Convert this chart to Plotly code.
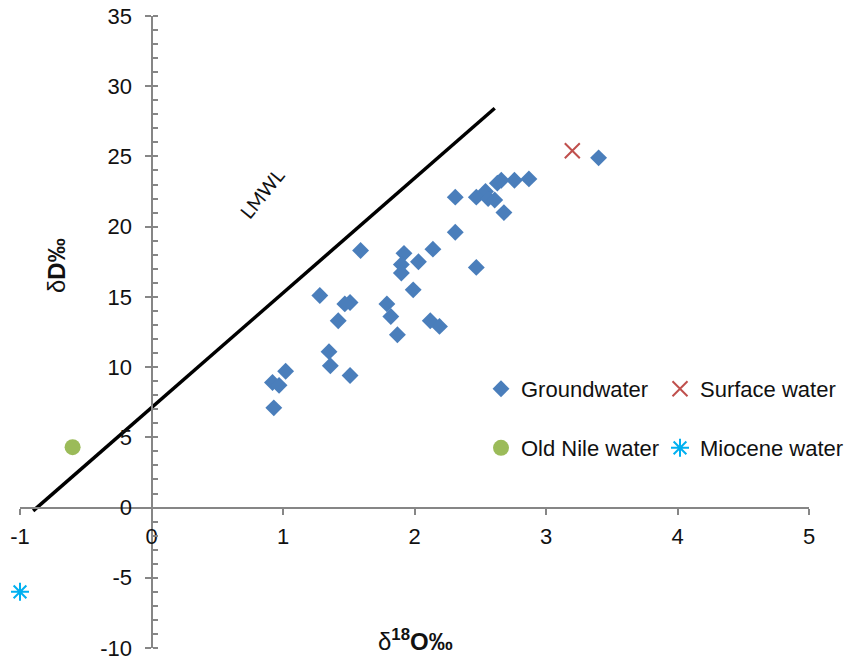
import plotly.graph_objects as go

# Groundwater samples (δ18O ‰, δD ‰)
gw_o18 = [3.40, 2.87, 2.76, 2.66, 2.63, 2.54, 2.47, 2.56, 2.61, 2.31, 2.68, 2.31,
          1.59, 2.14, 1.92, 2.03, 1.90, 2.47, 1.90, 1.99, 1.28, 1.51, 1.47, 1.79,
          1.42, 1.82, 2.12, 2.19, 1.87, 1.35, 1.36, 1.02, 1.51, 0.92, 0.97, 0.93]
gw_dD = [24.9, 23.4, 23.3, 23.3, 23.1, 22.5, 22.1, 22.0, 21.9, 22.1, 21.0, 19.6,
         18.3, 18.4, 18.1, 17.5, 17.3, 17.1, 16.7, 15.5, 15.1, 14.6, 14.5, 14.5,
         13.3, 13.6, 13.3, 12.9, 12.3, 11.1, 10.1, 9.7, 9.4, 8.9, 8.7, 7.1]

surface_o18 = [3.20]
surface_dD = [25.4]

nile_o18 = [-0.60]
nile_dD = [4.3]

miocene_o18 = [-1.00]
miocene_dD = [-6.0]

lmwl_x = [-0.9, 2.61]
lmwl_y = [-0.24, 28.43]

x_ticks = [-1, 0, 1, 2, 3, 4, 5]
x_labels = ["-1", "0", "1", "2", "3", "4", "5"]
y_ticks = [-10, -5, 0, 5, 10, 15, 20, 25, 30, 35]
y_labels = ["-10", "-5", "0", "5", "10", "15", "20", "25", "30", "35"]

FONT = "Liberation Sans, Arial, sans-serif"
AXC = "#868686"
TXT = "#111111"

fig = go.Figure()

fig.add_trace(go.Scatter(x=lmwl_x, y=lmwl_y, mode="lines",
                         line=dict(color="black", width=3.5), showlegend=False,
                         hoverinfo="skip"))

fig.add_trace(go.Scatter(x=gw_o18, y=gw_dD, mode="markers", name="Groundwater",
                         marker=dict(symbol="diamond", size=13, color="#4A7EBB"),
                         cliponaxis=False, legend="legend"))
fig.add_trace(go.Scatter(x=surface_o18, y=surface_dD, mode="markers", name="Surface water",
                         marker=dict(symbol="x-thin-open", size=15, color="#C0504D",
                                     line=dict(color="#C0504D", width=2)),
                         cliponaxis=False, legend="legend2"))
fig.add_trace(go.Scatter(x=nile_o18, y=nile_dD, mode="markers", name="Old Nile water",
                         marker=dict(symbol="circle", size=16, color="#9BBB59"),
                         cliponaxis=False, legend="legend3"))
fig.add_trace(go.Scatter(x=miocene_o18, y=miocene_dD, mode="markers", name="Miocene water",
                         marker=dict(symbol="asterisk-open", size=15, color="#00B0F0",
                                     line=dict(color="#00B0F0", width=2)),
                         cliponaxis=False, legend="legend4"))

L, R, T, B = 20, 48, 16, 12
W, H = 857, 660
pw, ph = W - L - R, H - T - B


def px2paper(px, py):
    return (px - L) / pw, (H - B - py) / ph


def leg(px, py):
    return dict(x=px / W, y=(H - py) / H, xref="container", yref="container",
                xanchor="left", yanchor="middle", bgcolor="rgba(0,0,0,0)",
                font=dict(family=FONT, size=22, color=TXT), itemwidth=30)


fig.update_layout(
    width=W, height=H,
    margin=dict(l=L, r=R, t=T, b=B, autoexpand=False),
    paper_bgcolor="white", plot_bgcolor="white",
    font=dict(family=FONT, size=22, color=TXT),
    legend=leg(481, 389),
    legend2=leg(660, 389),
    legend3=leg(481, 448),
    legend4=leg(660, 448),
    xaxis=dict(range=[-1, 5], tickvals=x_ticks, ticktext=x_labels, ticks="outside",
               ticklen=6, tickwidth=2, tickcolor=AXC, showline=True, linecolor=AXC,
               linewidth=2, showgrid=False, zeroline=False, anchor="free",
               position=10 / 45, automargin=False, ticklabeloverflow="allow",
               tickfont=dict(family=FONT, size=22, color=TXT), ticklabelstandoff=3),
    yaxis=dict(range=[-10, 35], tickvals=y_ticks, ticktext=y_labels, ticks="outside",
               ticklen=6, tickwidth=2, tickcolor=AXC, showline=True, linecolor=AXC,
               linewidth=2, showgrid=False, zeroline=False, anchor="free",
               position=1 / 6, automargin=False, ticklabeloverflow="allow",
               tickfont=dict(family=FONT, size=22, color=TXT), ticklabelstandoff=8,
               minor=dict(dtick=1, ticks="inside", ticklen=5, tickwidth=2, tickcolor=AXC,
                          showgrid=False)),
)

ax, ay = px2paper(415, 640)
fig.add_annotation(x=ax, y=ay, xref="paper", yref="paper", showarrow=False,
                   xanchor="center", yanchor="middle",
                   text="δ<b><sup>18</sup>O‰</b>", font=dict(family=FONT, size=24, color=TXT))
bx, by = px2paper(56, 266)
fig.add_annotation(x=bx, y=by, xref="paper", yref="paper", showarrow=False, textangle=-90,
                   xanchor="center", yanchor="middle",
                   text="δ<b>D‰</b>", font=dict(family=FONT, size=24, color=TXT))
cx, cy = px2paper(262, 194)
fig.add_annotation(x=cx, y=cy, xref="paper", yref="paper", showarrow=False, textangle=-51,
                   xanchor="center", yanchor="middle",
                   text="LMWL", font=dict(family="Lato, Open Sans, sans-serif", size=19, color=TXT))

fig.write_html("out.html")
